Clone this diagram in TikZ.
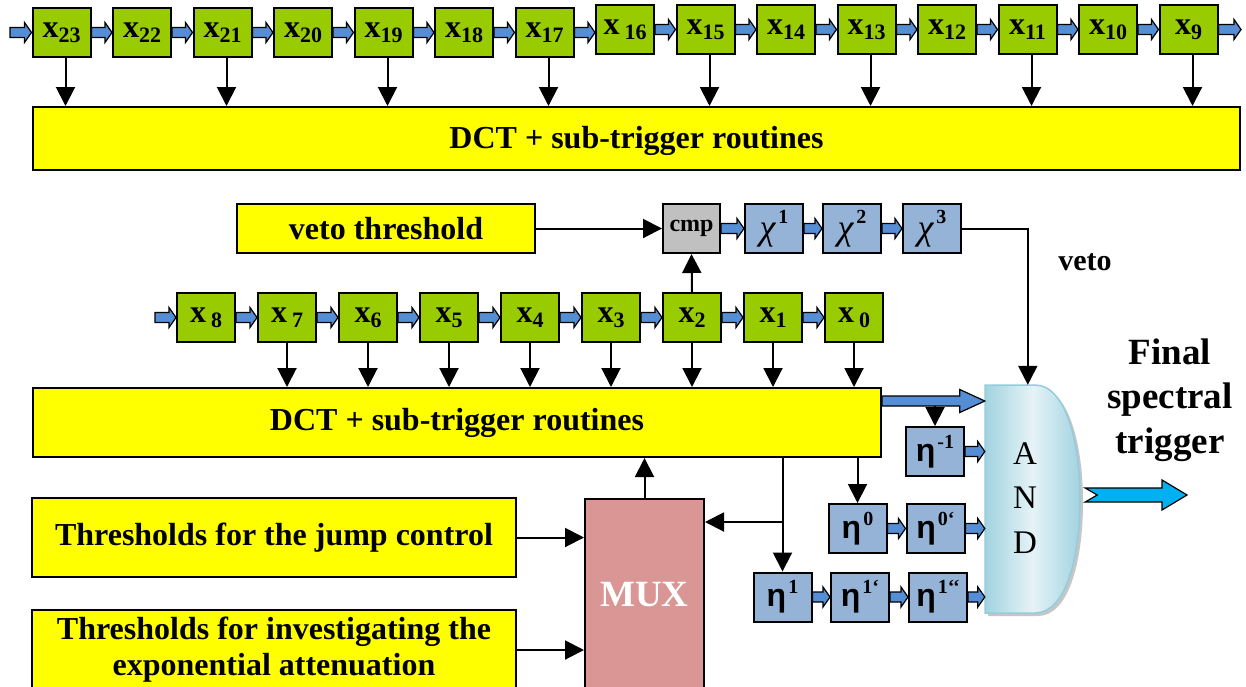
\documentclass[tikz,border=0pt]{standalone}
\usepackage{fontspec}
\setmainfont{Liberation Serif}
\newfontfamily\etafont{Liberation Sans}
\usetikzlibrary{arrows.meta,calc}
\definecolor{boxgreen}{HTML}{99CC00}
\definecolor{boxyellow}{HTML}{FFFF00}
\definecolor{arrowblue}{HTML}{558ED5}
\definecolor{etablue}{HTML}{95B3D7}
\definecolor{cmpgray}{HTML}{C0C0C0}
\definecolor{muxred}{HTML}{D99694}
\definecolor{andedge}{HTML}{93CDDD}
\definecolor{andA}{HTML}{A2D3E0}
\definecolor{andB}{HTML}{E6F3F7}
\definecolor{outcyan}{HTML}{00B0F0}
\newcommand\mainbf{\bfseries\fontsize{32}{36}\selectfont}
\newcommand\subsz{\bfseries\fontsize{22}{22}\selectfont}
\newcommand\supsz{\bfseries\fontsize{20}{20}\selectfont}
\newcommand\xs[2][]{x#1\raisebox{-5pt}{\subsz #2}}
\newcommand\etal[1]{{\etafont\bfseries\fontsize{32}{32}\selectfont η}\hspace{2pt}\raisebox{13pt}{\supsz #1}}
\newcommand\chil[1]{\raisebox{-2pt}{\mdseries\itshape\fontsize{36}{36}\selectfont χ}\hspace{3pt}\raisebox{14pt}{\supsz #1}}
\newcommand\fat[2]{\draw[fatst] ($(#1)+(0,-5)$) -- ($(#2)+(-7,-5)$) -- ($(#2)+(-7,-10)$) -- (#2) -- ($(#2)+(-7,10)$) -- ($(#2)+(-7,5)$) -- ($(#1)+(0,5)$) -- cycle;}
\newcommand\fatbig[2]{\draw[fatst] ($(#1)+(0,-5)$) -- ($(#2)+(-25,-5)$) -- ($(#2)+(-25,-11.5)$) -- (#2) -- ($(#2)+(-25,11.5)$) -- ($(#2)+(-25,5)$) -- ($(#1)+(0,5)$) -- cycle;}
\begin{document}
\begin{tikzpicture}[x=1pt,y=-1pt,
 gbox/.style={draw, line width=2pt, fill=boxgreen, minimum width=58pt, minimum height=49pt, inner sep=0pt, font=\mainbf},
 ebox/.style={draw, line width=2pt, fill=etablue, minimum width=58pt, minimum height=49pt, inner sep=0pt, font=\mainbf},
 ybox/.style={draw, line width=2pt, fill=boxyellow, inner sep=0pt, font=\mainbf, align=center},
 arr/.style={line width=2pt, -{Triangle[length=19pt,width=19pt]}},
 fatst/.style={fill=arrowblue, draw=black, line width=1.2pt, line join=miter},
]
\useasboundingbox (0,0) rectangle (1246,686);
\clip (0,0) rectangle (1246,686);
\fill[white] (0,0) rectangle (1246,686);

% top register row
\node[gbox] (x23) at (61.5,32.5) {\xs{23}};
\node[gbox] (x22) at (142,32.5) {\xs{22}};
\node[gbox] (x21) at (222.5,32.5) {\xs{21}};
\node[gbox] (x20) at (303,32.5) {\xs{20}};
\node[gbox] (x19) at (383.5,32.5) {\xs{19}};
\node[gbox] (x18) at (464,32.5) {\xs{18}};
\node[gbox] (x17) at (544.5,32.5) {\xs{17}};
\node[gbox] (x16) at (625,29.5) {\xs[\hspace{5pt}]{16}};
\node[gbox] (x15) at (705.5,29.5) {\xs{15}};
\node[gbox] (x14) at (786,29.5) {\xs{14}};
\node[gbox] (x13) at (866.5,29.5) {\xs{13}};
\node[gbox] (x12) at (947,29.5) {\xs{12}};
\node[gbox] (x11) at (1027.5,29.5) {\xs{11}};
\node[gbox] (x10) at (1108,29.5) {\xs{10}};
\node[gbox] (x9) at (1188.5,29.5) {\xs{9}};
\coordinate (inT) at (10,32.5);
\coordinate (outT) at (1241,29.5);
\fat{inT}{x23.west}
\foreach \a/\b in {23/22,22/21,21/20,20/19,19/18,18/17,16/15,15/14,14/13,13/12,12/11,11/10,10/9}{\fat{x\a.east}{x\b.west}}
\coordinate (m1716) at (x17.east -| x16.west);
\fat{x17.east}{m1716}
\fat{x9.east}{outT}

\node[ybox, minimum width=1207pt, minimum height=63pt, text depth=2pt] (dct1) at (636.5,138.5) {DCT + sub-trigger routines};
\foreach \n in {23,21,19,17,15,13,11,9}{\draw[arr] ($(x\n.south)+(4,0)$) -- ($(x\n.south |- dct1.north)+(4,0)$);}

% veto chain
\node[ybox, minimum width=298pt, minimum height=49pt] (vt) at (386,228.5) {veto threshold};
\node[draw, line width=2pt, fill=cmpgray, minimum width=57pt, minimum height=49pt, inner sep=0pt, font=\bfseries\fontsize{24}{24}\selectfont] (cmp) at (691.5,228.5) {cmp};
\node[ebox] (chi1) at (774,228.5) {\chil{1}};
\node[ebox] (chi2) at (852,228.5) {\chil{2}};
\node[ebox] (chi3) at (932,228.5) {\chil{3}};
\draw[arr] (vt.east) -- (cmp.west);
\fat{cmp.east}{chi1.west}
\fat{chi1.east}{chi2.west}
\fat{chi2.east}{chi3.west}

% lower register row
\node[gbox] (x8) at (206,317.5) {\xs[\hspace{5pt}]{8}};
\node[gbox] (x7) at (287,317.5) {\xs[\hspace{5pt}]{7}};
\node[gbox] (x6) at (368,317.5) {\xs{6}};
\node[gbox] (x5) at (449,317.5) {\xs{5}};
\node[gbox] (x4) at (530,317.5) {\xs{4}};
\node[gbox] (x3) at (611,317.5) {\xs{3}};
\node[gbox] (x2) at (692,317.5) {\xs{2}};
\node[gbox] (x1) at (773,317.5) {\xs{1}};
\node[gbox] (x0) at (854,317.5) {\xs[\hspace{5pt}]{0}};
\coordinate (inL) at (155,317.5);
\fat{inL}{x8.west}
\foreach \a/\b in {8/7,7/6,6/5,5/4,4/3,3/2,2/1,1/0}{\fat{x\a.east}{x\b.west}}
\draw[arr] (x2.north) -- (cmp.south);

\node[ybox, minimum width=848pt, minimum height=69pt] (dct2) at (457,422.5) {DCT + sub-trigger routines};
\foreach \n in {7,6,5,4,3,2,1,0}{\draw[arr] (x\n.south) -- (x\n.south |- dct2.north);}

% AND gate
\node[minimum width=95pt, minimum height=228pt, inner sep=0pt] (and) at (1032.5,499) {};
\fill[gray!45] (988,388) -- (1038,388) .. controls (1068,388) and (1083,443) .. (1083,502) .. controls (1083,563) and (1068,616) .. (1038,616) -- (988,616) -- cycle;
\shade[left color=andA, right color=andA, middle color=andB] (985,385) -- (1035,385) .. controls (1065,385) and (1080,440) .. (1080,499) .. controls (1080,560) and (1065,613) .. (1035,613) -- (985,613) -- cycle;
\draw[andedge, line width=1.5pt] (985,385) -- (1035,385) .. controls (1065,385) and (1080,440) .. (1080,499) .. controls (1080,560) and (1065,613) .. (1035,613) -- (985,613) -- cycle;
\node[align=center, font=\fontsize{33}{44.5}\selectfont, inner sep=0pt] (andtxt) at (1025,498) {A\\N\\D};

\coordinate (vin) at ($(and.north west)+(43,0)$);
\draw[arr] (chi3.east) -| (vin);
\node[font=\bfseries\fontsize{30}{30}\selectfont, inner sep=0pt] (vetolbl) at (1085,262) {veto};

% eta boxes
\node[ebox] (etam) at (935,451.5) {\etal{-1}};
\node[ebox] (etaz) at (857.5,528.5) {\etal{0}};
\node[ebox] (etazp) at (935.5,528.5) {\etal{0‘}};
\node[ebox] (etao) at (782.5,597) {\etal{1}};
\node[ebox] (etaop) at (860,597) {\etal{1‘}};
\node[ebox] (etaopp) at (938,597) {\etal{1‘‘}};

\coordinate (fa) at ($(dct2.north east)+(0,14)$);
\coordinate (fb) at (fa -| and.west);
\fatbig{fa}{fb}
\draw[arr] ($(fa -| etam.north)+(0,5)$) -- (etam.north);
\coordinate (am) at (etam.east -| and.west);
\fat{etam.east}{am}
\fat{etaz.east}{etazp.west}
\coordinate (azp) at (etazp.east -| and.west);
\fat{etazp.east}{azp}
\fat{etao.east}{etaop.west}
\fat{etaop.east}{etaopp.west}
\coordinate (aopp) at (etaopp.east -| and.west);
\fat{etaopp.east}{aopp}

% MUX and thresholds
\node[draw, line width=2pt, fill=muxred, minimum width=119pt, minimum height=192pt, inner sep=0pt, text=white, font=\bfseries\fontsize{37}{37}\selectfont] (mux) at (644.5,595) {MUX};
\node[ybox, minimum width=484pt, minimum height=79pt] (jump) at (274,537.5) {Thresholds for the jump control};
\node[ybox, minimum width=484pt, minimum height=80pt] (expo) at (274,650) {Thresholds for investigating the\\exponential attenuation};
\draw[arr] (jump.east) -- (jump.east -| mux.west);
\draw[arr] (expo.east) -- (expo.east -| mux.west);
\draw[arr] (mux.north) -- (mux.north |- dct2.south);
\draw[arr] (etao.north |- dct2.south) -- (etao.north);
\coordinate (br) at (782.5,522);
\draw[arr] (br) -- (br -| mux.east);
\draw[arr] (etaz.north |- dct2.south) -- (etaz.north);

% output
\coordinate (oa) at ($(and.east)+(5,-4)$);
\coordinate (ob) at (1187,495);
\draw[fill=outcyan, draw=black, line width=1.2pt] ($(oa)+(0,-7)$) -- ($(ob)+(-25,-7)$) -- ($(ob)+(-25,-15)$) -- (ob) -- ($(ob)+(-25,15)$) -- ($(ob)+(-25,7)$) -- ($(oa)+(0,7)$) -- ($(oa)+(12,0)$) -- cycle;
\node[align=center, font=\bfseries\fontsize{37}{44.5}\selectfont, inner sep=0pt] (final) at (1170,400) {Final\\spectral\\trigger};
\end{tikzpicture}
\end{document}
